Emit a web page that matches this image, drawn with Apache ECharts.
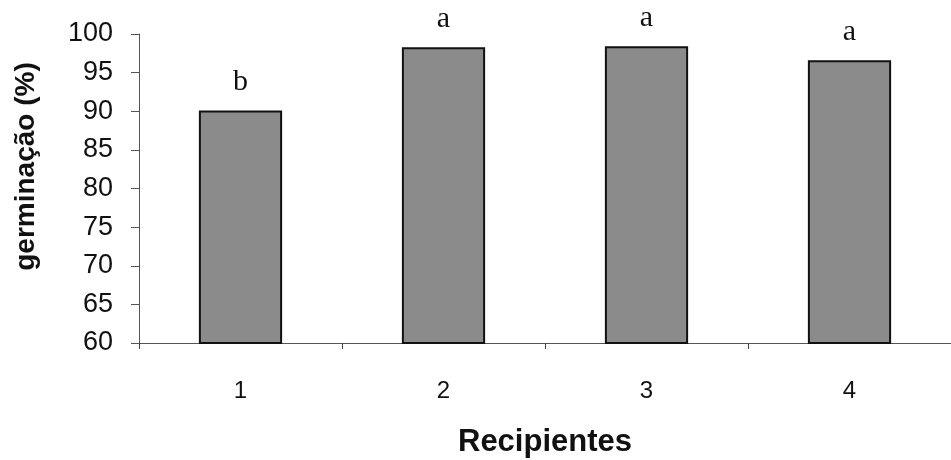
<!DOCTYPE html>
<html>
<head>
<meta charset="utf-8">
<script src="https://cdn.jsdelivr.net/npm/echarts@6/dist/echarts.min.js"></script>
<style>
  html, body { margin: 0; padding: 0; background: #fff; }
  #chart { width: 951px; height: 460px; }
</style>
</head>
<body>
<div id="chart"></div>
<script>
// dados
const categorias = ['1', '2', '3', '4']
const germinacao = [90.1, 98.3, 98.4, 96.6]
const letras = ['b', 'a', 'a', 'a']

const chart = echarts.init(document.getElementById('chart'))

const option = {
  animation: false,
  grid: { left: 139, right: 0, top: 34, bottom: 117, outerBoundsMode: 'none' },
  xAxis: {
    type: 'category',
    data: categorias,
    name: 'Recipientes',
    nameLocation: 'middle',
    nameGap: 84,
    nameTextStyle: { fontFamily: 'Liberation Sans', fontSize: 31, fontWeight: 'bold', color: '#111' },
    axisLine: { lineStyle: { color: '#555', width: 1 } },
    axisTick: { show: true, length: 6, lineStyle: { color: '#444' } },
    axisLabel: { fontFamily: 'Liberation Sans', fontSize: 24, color: '#111', margin: 36 }
  },
  yAxis: {
    type: 'value',
    min: 60,
    max: 100,
    interval: 5,
    name: 'germinação (%)',
    nameLocation: 'middle',
    nameGap: 99,
    // desloca o título um pouco para cima, como no original
    nameTextStyle: { fontFamily: 'Liberation Sans', fontSize: 28, fontWeight: 'bold', color: '#111', padding: [0, 0, 0, 44] },
    axisLine: { show: true, lineStyle: { color: '#555', width: 1 } },
    axisTick: { show: true, length: 8, lineStyle: { color: '#555' } },
    splitLine: { show: false },
    axisLabel: { fontFamily: 'Liberation Sans', fontSize: 27, color: '#111', margin: 26 }
  },
  series: [{
    type: 'bar',
    data: germinacao,
    barWidth: '41%',
    itemStyle: { color: '#8b8b8b', borderColor: '#111', borderWidth: 2 },
    label: {
      show: true,
      position: 'top',
      distance: 13,
      formatter: p => letras[p.dataIndex],
      fontFamily: 'Liberation Serif',
      fontSize: 30,
      color: '#111'
    }
  }]
}

chart.setOption(option)
</script>
</body>
</html>
